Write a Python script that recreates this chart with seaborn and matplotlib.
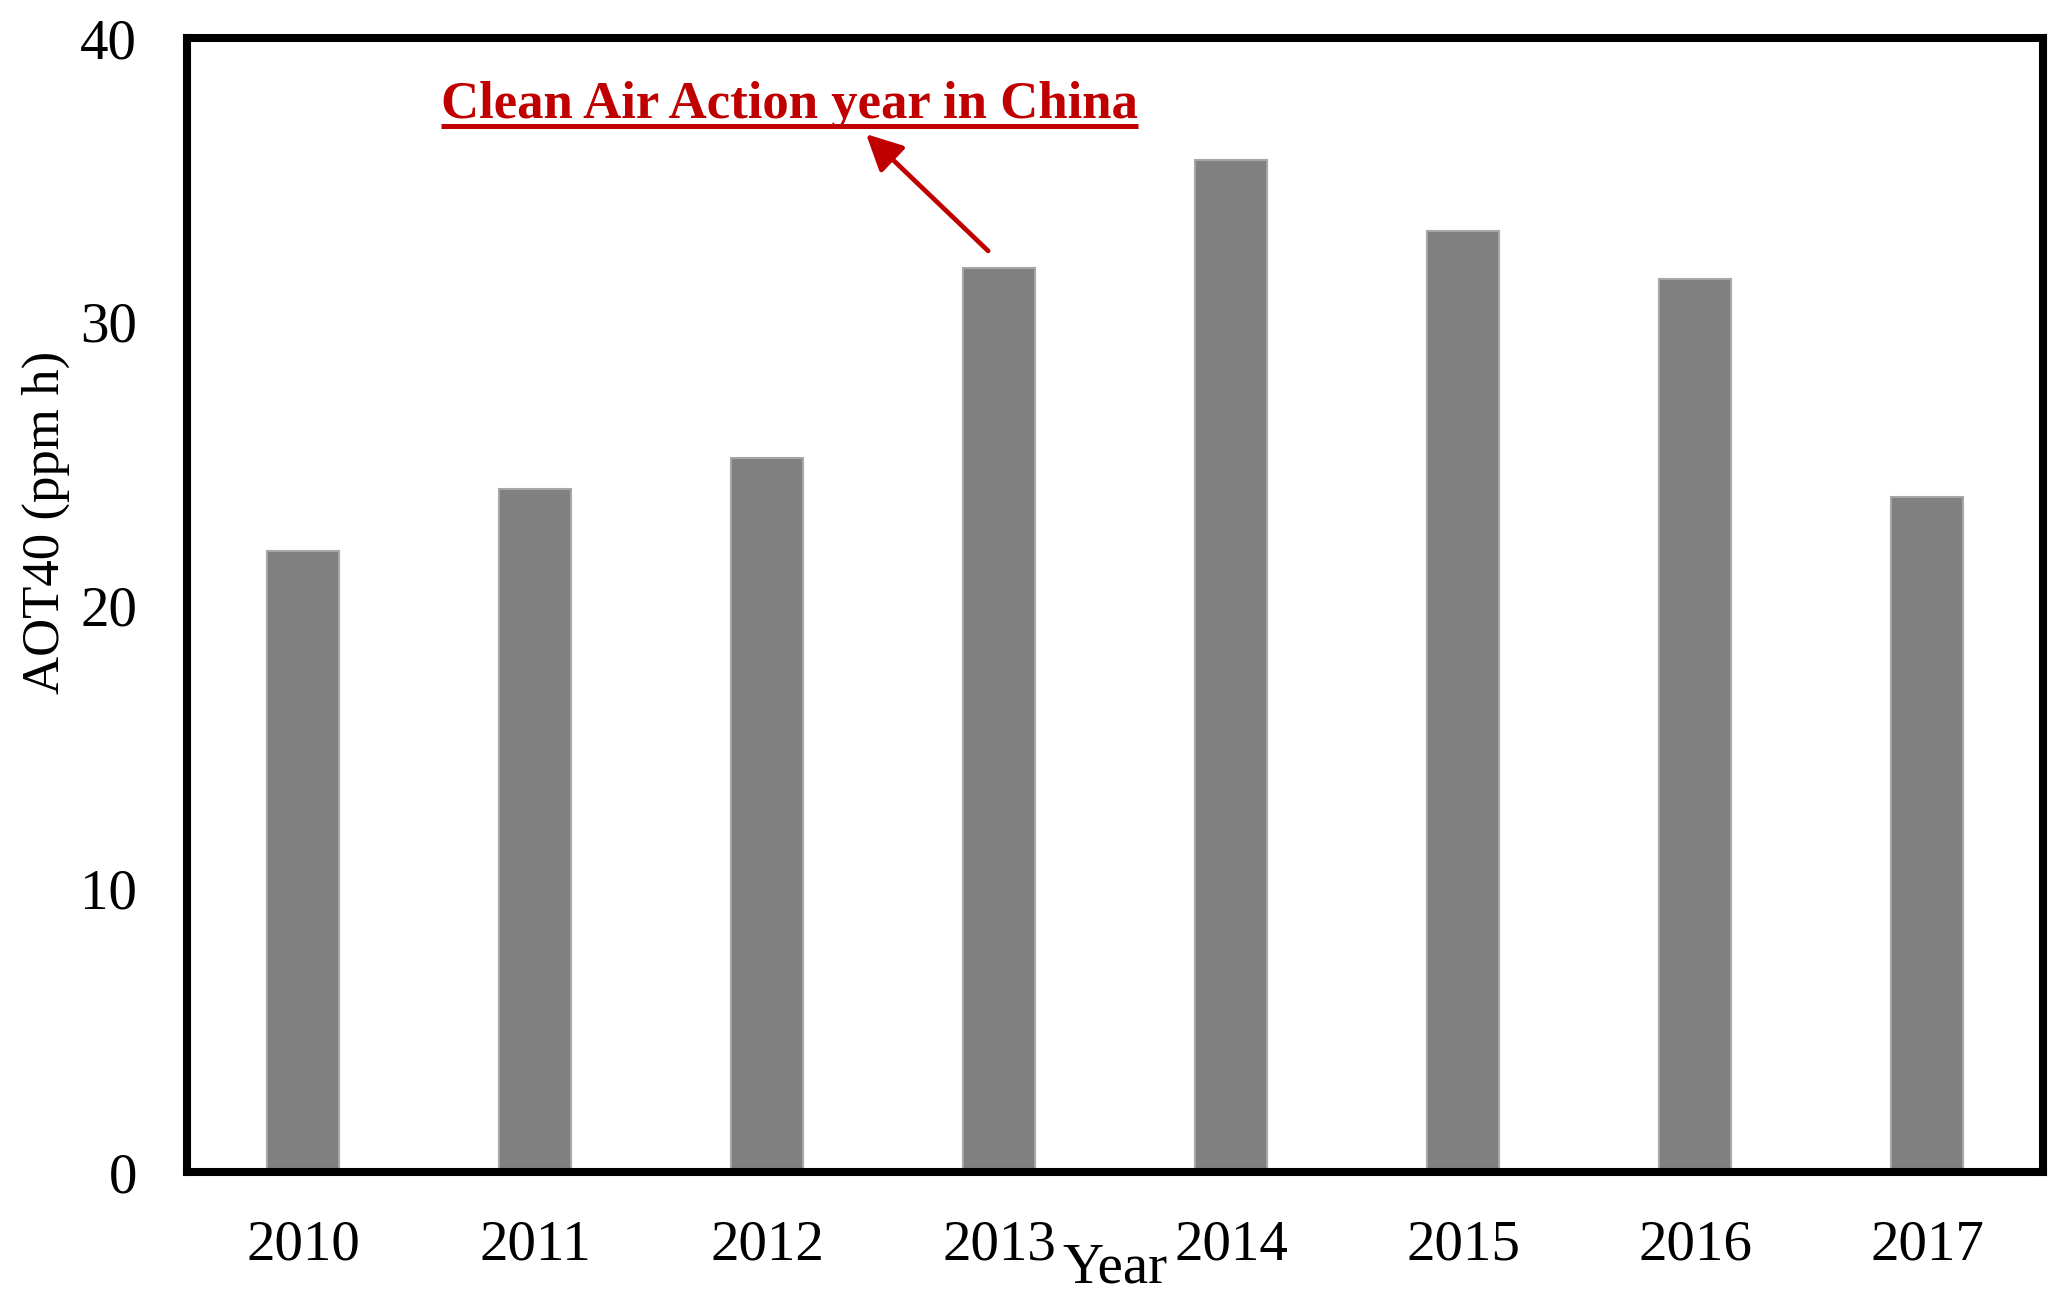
import numpy as np
import pandas as pd
import seaborn as sns
import matplotlib
matplotlib.use('Agg')
import matplotlib.pyplot as plt

# AOT40 values
years = ['2010', '2011', '2012', '2013', '2014', '2015', '2016', '2017']
aot40 = [21.9, 24.1, 25.2, 31.9, 35.7, 33.2, 31.5, 23.8]
y_ticks = [0, 10, 20, 30, 40]
note_text = 'Clean Air Action year in China'
red = '#C00000'

df = pd.DataFrame({'Year': years, 'AOT40': aot40})

sns.set_style('white')
plt.rcParams['font.family'] = ['Liberation Serif', 'DejaVu Serif']
plt.rcParams['text.color'] = 'black'
plt.rcParams['axes.labelcolor'] = 'black'

fig = plt.figure(figsize=(20.67, 13.06), dpi=100)
ax = fig.add_axes([0.0905, 0.1026, 0.8979, 0.8683])

sns.barplot(data=df, x='Year', y='AOT40', color='#808080', saturation=1,
            width=0.31, edgecolor='#a6a6a6', linewidth=1.5, ax=ax)

ax.set_xlim(-0.5, len(years) - 0.5)
ax.set_ylim(0, 40)
ax.set_yticks(y_ticks)
ax.tick_params(axis='both', length=0, labelsize=41, colors='black')
ax.tick_params(axis='x', pad=34)
ax.tick_params(axis='y', pad=36)

for side in ['top', 'bottom', 'left', 'right']:
    ax.spines[side].set_visible(True)
    ax.spines[side].set_color('black')
    ax.spines[side].set_linewidth(5.8)

ax.set_xlabel('Year', fontsize=41, color='black')
ax.xaxis.set_label_coords(0.5, -0.062)
ax.set_ylabel('AOT40 (ppm h)', fontsize=38, color='black')
ax.yaxis.set_label_coords(-0.063, 0.573)

# Annotation for 2013
txt = ax.text(2.095, 37.18, note_text, color=red, fontsize=38,
              fontweight='bold', ha='center', va='baseline')
ax.annotate('', xy=(2.427, 36.61), xytext=(2.953, 32.49),
            arrowprops=dict(arrowstyle='-|>,head_length=2.2,head_width=1.1',
                            color=red, lw=3.4, shrinkA=0, shrinkB=0))

# underline the note
fig.canvas.draw()
bb = txt.get_window_extent(fig.canvas.get_renderer())
base = ax.transData.transform((2.095, 37.18))
inv = ax.transData.inverted()
x0, yl = inv.transform((bb.x0, base[1] - 8))
x1, _ = inv.transform((bb.x1, base[1] - 8))
ax.plot([x0, x1], [yl, yl], color=red, lw=3.6, solid_capstyle='butt',
        clip_on=False)

fig.savefig('out.png', dpi=100, facecolor='white')
